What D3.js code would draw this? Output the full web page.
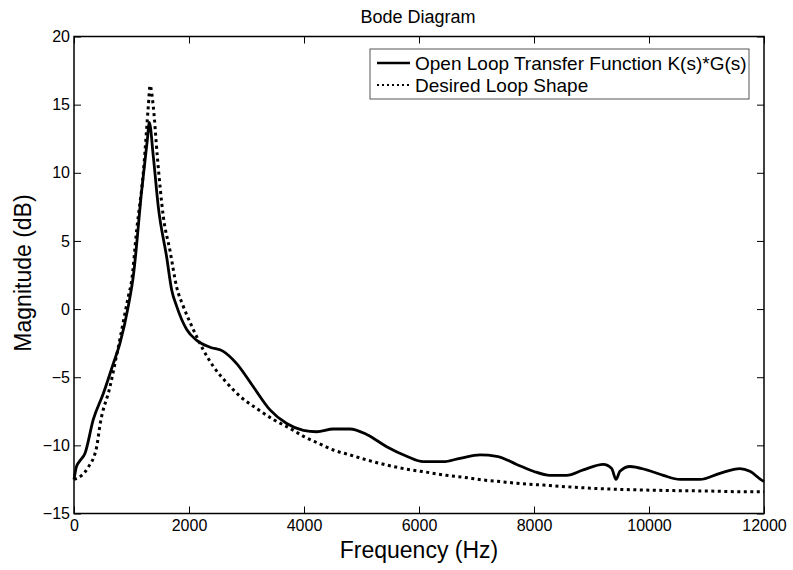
<!DOCTYPE html>
<html>
<head>
<meta charset="utf-8">
<script src="https://cdn.jsdelivr.net/npm/d3@7"></script>
<style>
  body { margin: 0; background: #fff; }
  svg { font-family: "Liberation Sans", Arial, sans-serif; }
</style>
</head>
<body>
<script>
// courbe en trait plein : K(s)*G(s)
var freqSolid = [0, 40, 90, 190, 336, 510, 683, 800, 944, 1031, 1177, 1275, 1310, 1379, 1466, 1612, 1699, 1786, 1960, 2134, 2365, 2596, 2829, 3118, 3409, 3699, 3989, 4221, 4510, 4800, 5090, 5438, 5786, 6074, 6422, 6713, 7061, 7351, 7699, 7988, 8278, 8568, 8857, 9205, 9351, 9426, 9495, 9670, 9959, 10248, 10538, 10886, 11233, 11581, 11755, 11959, 12000];
var magSolid = [-12.5, -11.6, -11.2, -10.6, -8.1, -6.2, -4.0, -2.5, 0.2, 2.4, 8.7, 12.4, 13.7, 11.2, 7.5, 3.8, 1.4, 0.2, -1.5, -2.3, -2.8, -3.1, -4.0, -5.7, -7.4, -8.4, -8.9, -9.0, -8.8, -8.8, -9.2, -10.1, -10.8, -11.2, -11.2, -10.95, -10.7, -10.8, -11.4, -11.9, -12.2, -12.2, -11.8, -11.4, -11.7, -12.5, -11.9, -11.55, -11.8, -12.2, -12.5, -12.5, -12.05, -11.7, -11.9, -12.55, -12.65];

// courbe pointillée : forme désirée
var freqDotted = [0, 134, 249, 395, 452, 626, 770, 944, 1003, 1090, 1205, 1292, 1322, 1379, 1449, 1553, 1669, 1786, 1901, 2075, 2249, 2422, 2655, 2887, 3177, 3466, 3756, 4000, 4250, 4510, 4800, 5090, 5438, 5786, 6074, 6422, 6770, 7118, 7408, 7699, 8278, 8683, 9264, 9844, 10422, 11003, 11581, 12000];
var magDotted = [-12.5, -12.2, -11.6, -10.1, -8.5, -5.7, -2.8, 0.9, 2.1, 5.8, 10.0, 14.85, 16.4, 14.85, 11.2, 6.8, 4.3, 1.6, 0.2, -1.5, -3.0, -4.2, -5.4, -6.4, -7.3, -8.1, -8.75, -9.36, -9.85, -10.34, -10.7, -11.07, -11.44, -11.75, -11.93, -12.17, -12.34, -12.54, -12.66, -12.78, -12.95, -13.07, -13.2, -13.27, -13.32, -13.35, -13.4, -13.4];

var xTicks = [0, 2000, 4000, 6000, 8000, 10000, 12000];
var yTicks = [-15, -10, -5, 0, 5, 10, 15, 20];
var legendLabels = ["Open Loop Transfer Function K(s)*G(s)", "Desired Loop Shape"];

var width = 793, height = 570;
var plotLeft = 74, plotRight = 764, plotTop = 36.5, plotBottom = 513.5;

var svg = d3.select("body")
  .append("svg")
  .attr("width", width)
  .attr("height", height);

// Echelles
var x = d3.scaleLinear().domain([0, 12000]).range([plotLeft, plotRight]);
var y = d3.scaleLinear().domain([-15, 20]).range([plotBottom, plotTop]);

var axisStyle = function(g) {
  g.select(".domain").remove();
  g.selectAll("line").attr("stroke", "#000").attr("stroke-width", 1);
  g.selectAll("text").attr("fill", "#000").attr("font-size", "16px")
    .attr("font-family", "Liberation Sans, Arial, sans-serif");
};

svg.append("g")
  .attr("transform", "translate(0," + plotBottom + ")")
  .call(d3.axisBottom(x).tickValues(xTicks).tickSize(-7).tickPadding(6).tickFormat(d3.format("d")))
  .call(axisStyle);
svg.append("g")
  .attr("transform", "translate(0," + plotTop + ")")
  .call(d3.axisTop(x).tickValues(xTicks).tickSize(-7).tickFormat(""))
  .call(axisStyle);
svg.append("g")
  .attr("transform", "translate(" + plotLeft + ",0)")
  .call(d3.axisLeft(y).tickValues(yTicks).tickSize(-7).tickPadding(4).tickFormat(d3.format("d")))
  .call(axisStyle);
svg.append("g")
  .attr("transform", "translate(" + plotRight + ",0)")
  .call(d3.axisRight(y).tickValues(yTicks).tickSize(-7).tickFormat(""))
  .call(axisStyle);

// cadre
svg.append("rect")
  .attr("x", plotLeft).attr("y", plotTop)
  .attr("width", plotRight - plotLeft).attr("height", plotBottom - plotTop)
  .attr("fill", "none").attr("stroke", "#000").attr("stroke-width", 1.5);

var line = d3.line()
  .x(d => x(d[0]))
  .y(d => y(d[1]))
  .curve(d3.curveMonotoneX);

var solidData = freqSolid.map((f, i) => [f, magSolid[i]]);
var dottedData = freqDotted.map((f, i) => [f, magDotted[i]]);

svg.append("path")
  .datum(dottedData)
  .attr("d", line)
  .attr("fill", "none")
  .attr("stroke", "#000")
  .attr("stroke-width", 3)
  .attr("stroke-dasharray", "3,3.5");

svg.append("path")
  .datum(solidData)
  .attr("d", line)
  .attr("fill", "none")
  .attr("stroke", "#000")
  .attr("stroke-width", 2.8);

// titres
svg.append("text")
  .attr("x", 418).attr("y", 23)
  .attr("text-anchor", "middle")
  .attr("font-size", "18px")
  .text("Bode Diagram");

svg.append("text")
  .attr("x", 419).attr("y", 558)
  .attr("text-anchor", "middle")
  .attr("font-size", "23px")
  .text("Frequency (Hz)");

svg.append("text")
  .attr("transform", "translate(31,273) rotate(-90)")
  .attr("text-anchor", "middle")
  .attr("font-size", "23px")
  .text("Magnitude (dB)");

// légende
var legend = svg.append("g");
legend.append("rect")
  .attr("x", 370).attr("y", 49)
  .attr("width", 379).attr("height", 50)
  .attr("fill", "#fff").attr("stroke", "#555").attr("stroke-width", 1);

var legendRows = [63, 85];
legendLabels.forEach(function(label, i) {
  legend.append("line")
    .attr("x1", 377).attr("x2", 410)
    .attr("y1", legendRows[i]).attr("y2", legendRows[i])
    .attr("stroke", "#000")
    .attr("stroke-width", i == 0 ? 2.5 : 2)
    .attr("stroke-dasharray", i == 0 ? null : "2,3");
  legend.append("text")
    .attr("x", 415).attr("y", legendRows[i] + 7)
    .attr("font-size", "19px")
    .text(label);
});
</script>
</body>
</html>
